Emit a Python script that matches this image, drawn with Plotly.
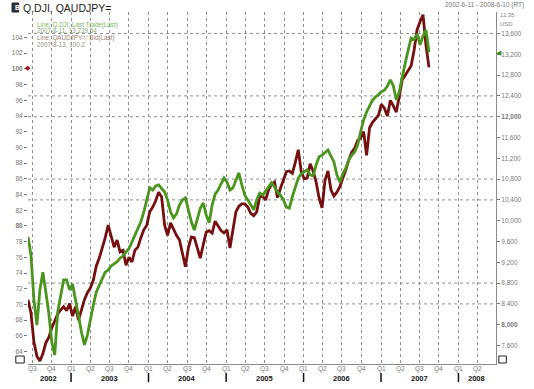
import pandas as pd
import plotly.graph_objects as go

# ---------------- data (bi-weekly samples) ----------------
start_date = "2002-06-12"
n_points = 136
dates = pd.date_range(start=start_date, periods=n_points, freq="14D")

dji = [
    9690, 9340, 8475, 7990, 8670, 9010, 8630, 8225, 7670, 7420,
    8250, 8570, 8860, 8860, 8670, 8780, 8440, 8170, 7860, 7610,
    7800, 8130, 8380, 8630, 8760, 8900, 9010, 9050, 9130, 9170,
    9210, 9280, 9320, 9400, 9460, 9590, 9710, 9860, 9980, 10170,
    10400, 10630, 10590, 10670, 10690, 10630, 10550, 10400, 10170, 10050,
    10130, 10300, 10400, 10440, 10210, 9980, 9820, 10010, 10240, 10340,
    10110, 9960, 10300, 10510, 10590, 10710, 10820, 10740, 10590, 10630,
    10780, 10920, 10690, 10490, 10400, 10300, 10210, 10400, 10530, 10490,
    10570, 10630, 10730, 10650, 10550, 10490, 10400, 10260, 10240, 10460,
    10630, 10820, 10900, 10940, 10980, 10880, 10860, 11070, 11230, 11260,
    11320, 11360, 11240, 11130, 10880, 10740, 10900, 11010, 11170, 11260,
    11320, 11460, 11710, 11940, 12090, 12210, 12320, 12380, 12420, 12480,
    12510, 12590, 12710, 12590, 12320, 12480, 12780, 13030, 13280, 13510,
    13480, 13590, 13380, 13550, 13670, 13240,
]

audjpy = [
    70.6, 68.9, 65.2, 63.4, 62.8, 63.7, 65.1, 65.8, 67.0, 68.0,
    68.8, 69.3, 69.7, 69.2, 70.1, 68.5, 69.7, 68.0, 69.3, 70.6,
    71.5, 72.1, 73.1, 74.9, 75.9, 77.1, 78.5, 80.1, 78.8, 77.3,
    78.2, 76.7, 76.9, 75.0, 76.0, 75.4, 76.9, 77.3, 78.5, 79.5,
    80.1, 81.8, 82.4, 83.2, 84.3, 83.7, 80.1, 78.8, 80.4, 79.5,
    78.8, 78.2, 76.3, 74.8, 77.2, 78.6, 78.5, 77.3, 75.9, 77.6,
    79.2, 79.4, 79.1, 80.6, 80.0, 79.4, 79.1, 79.5, 77.2, 79.7,
    81.8, 82.5, 82.8, 82.8, 82.4, 81.6, 81.3, 81.8, 83.7, 83.8,
    83.3, 84.6, 85.3, 85.6, 83.6, 84.8, 86.0, 86.9, 87.0, 86.7,
    88.1, 89.7, 86.9, 86.0, 86.1, 87.9, 87.0, 85.6, 83.6, 82.3,
    85.8, 87.0, 84.6, 83.8, 84.3, 85.0, 86.1, 87.1, 88.4, 89.4,
    89.9, 90.9, 91.2, 92.0, 89.0, 92.5, 93.2, 93.7, 94.1, 95.5,
    95.0, 94.0, 96.0, 95.3, 94.5, 96.5, 98.6, 99.2, 99.9, 100.4,
    102.4, 105.0, 106.0, 106.9, 103.0, 100.2,
]

left_ticks = list(range(64, 105, 2))
left_bold = [80, 100]
right_ticks = list(range(7600, 13601, 400))
right_bold = [8000, 12000]
hgrid_values = [13600, 12400, 12000, 10800, 10400, 8800, 8400]

quarter_dates = ["2002-07-01", "2002-10-01",
                 "2003-01-01", "2003-04-01", "2003-07-01", "2003-10-01",
                 "2004-01-01", "2004-04-01", "2004-07-01", "2004-10-01",
                 "2005-01-01", "2005-04-01", "2005-07-01", "2005-10-01",
                 "2006-01-01", "2006-04-01", "2006-07-01", "2006-10-01",
                 "2007-01-01", "2007-04-01", "2007-07-01", "2007-10-01",
                 "2008-01-01", "2008-04-01"]
quarter_labels = ["Q3", "Q4"] + ["Q1", "Q2", "Q3", "Q4"] * 5 + ["Q1", "Q2"]
year_labels = ["2002", "2003", "2004", "2005", "2006", "2007", "2008"]
year_label_dates = ["2002-09-17", "2003-07-01", "2004-07-01", "2005-07-01",
                    "2006-07-01", "2007-07-01", "2008-03-25"]
year_starts = ["2003-01-01", "2004-01-01", "2005-01-01", "2006-01-01",
               "2007-01-01", "2008-01-01"]

# ---------------- layout helpers ----------------
W, H = 534, 389
L, R, T, B = 20, 15, 12, 25
PW, PH = W - L - R, H - T - B


def px(X):
    return (X - L) / PW


def py(Y):
    return (H - B - Y) / PH


GREEN = "#4a951d"
RED = "#761010"
GRID = "#8f8f8f"
FONT = "Liberation Sans, Arial, sans-serif"

fig = go.Figure()
fig.add_trace(go.Scatter(x=dates, y=dji, yaxis="y2", mode="lines",
                         line=dict(color=GREEN, width=2.8), hoverinfo="skip"))
fig.add_trace(go.Scatter(x=dates, y=audjpy, yaxis="y", mode="lines",
                         line=dict(color=RED, width=2.8), hoverinfo="skip"))


def fmt_left(v):
    return f"<b>{v}</b>" if v in left_bold else str(v)


def fmt_right(v):
    s = f"{v:,}"
    return f"<b>{s}</b>" if v in right_bold else s


shapes = []
for v in hgrid_values:
    shapes.append(dict(type="line", xref="paper", x0=0, x1=1, yref="y2", y0=v, y1=v,
                       line=dict(color=GRID, width=1, dash="dot"), layer="below"))
for d in year_starts:
    shapes.append(dict(type="line", xref="x", x0=d, x1=d, yref="paper",
                       y0=py(373), y1=py(382), line=dict(color="#111", width=1.5)))
# small corner boxes
shapes.append(dict(type="rect", xref="paper", yref="paper", x0=px(7), x1=px(16),
                   y0=py(363), y1=py(356), line=dict(color="#222", width=1)))
shapes.append(dict(type="rect", xref="paper", yref="paper", x0=px(522), x1=px(530),
                   y0=py(363), y1=py(356), line=dict(color="#222", width=1)))
# header icon
shapes.append(dict(type="rect", xref="paper", yref="paper", x0=px(3), x1=px(10),
                   y0=py(12), y1=py(3), line=dict(color="#222", width=1),
                   fillcolor="#333"))

ann = []
for d, t in zip(quarter_dates, quarter_labels):
    ann.append(dict(x=d, xref="x", y=py(369), yref="paper", text=t, showarrow=False,
                    font=dict(size=6.5, color="#777", family=FONT),
                    xanchor="center", yanchor="middle"))
for d, t in zip(year_label_dates, year_labels):
    ann.append(dict(x=d, xref="x", y=py(378), yref="paper", text=f"<b>{t}</b>",
                    showarrow=False, font=dict(size=7.5, color="#111", family=FONT),
                    xanchor="center", yanchor="middle"))

ann += [
    dict(x=px(13), y=py(8), xref="paper", yref="paper", text="Q.DJI, QAUDJPY=",
         showarrow=False, xanchor="left", yanchor="middle",
         font=dict(size=10.5, color="#222", family=FONT)),
    dict(x=px(463), y=py(5.5), xref="paper", yref="paper",
         text="2002-6-11 - 2008-6-10 (RT)", showarrow=False, xanchor="left",
         yanchor="middle", font=dict(size=6.5, color="#777", family=FONT)),
    dict(x=px(521), y=py(15), xref="paper", yref="paper", text="11:35",
         showarrow=False, xanchor="left", yanchor="middle",
         font=dict(size=6, color="#888", family=FONT)),
    dict(x=px(521), y=py(23.5), xref="paper", yref="paper", text="USD",
         showarrow=False, xanchor="left", yanchor="middle",
         font=dict(size=6, color="#888", family=FONT)),
    dict(x=px(27), y=py(25), xref="paper", yref="paper",
         text="Line; Q.DJI; Last Trade(Last)", showarrow=False, xanchor="left",
         yanchor="middle", font=dict(size=6.3, color="#7fb660", family=FONT)),
    dict(x=px(27), y=py(31), xref="paper", yref="paper",
         text="2007-8-11, 13,239.54", showarrow=False, xanchor="left",
         yanchor="middle", font=dict(size=6.3, color="#8aa87a", family=FONT)),
    dict(x=px(27), y=py(38), xref="paper", yref="paper",
         text="Line; QAUDJPY=; Bid(Last)", showarrow=False, xanchor="left",
         yanchor="middle", font=dict(size=6.3, color="#9a8478", family=FONT)),
    dict(x=px(27), y=py(44), xref="paper", yref="paper",
         text="2007-8-13, 100.2", showarrow=False, xanchor="left",
         yanchor="middle", font=dict(size=6.3, color="#9a8a80", family=FONT)),
    dict(x=px(4.5), y=py(8), xref="paper", yref="paper", text="<b>B</b>",
         showarrow=False, xanchor="left", yanchor="middle",
         font=dict(size=7, color="#fff", family=FONT)),
    dict(x=px(19.5), y=audjpy[-1], xref="paper", yref="y", text="◆",
         showarrow=False, xanchor="center", yanchor="middle",
         font=dict(size=7, color="#a01818", family=FONT)),
    dict(x=px(522), y=dji[-1], xref="paper", yref="y2", text="◀",
         showarrow=False, xanchor="center", yanchor="middle",
         font=dict(size=7, color="#3f8f1f", family=FONT)),
]

fig.update_layout(
    width=W, height=H,
    margin=dict(l=L, r=R, t=T, b=B, pad=0),
    paper_bgcolor="white", plot_bgcolor="white",
    showlegend=False,
    font=dict(family=FONT),
    xaxis=dict(type="date", range=["2002-06-12", "2008-06-26"],
               tickvals=quarter_dates, showticklabels=False, ticks="",
               showgrid=True, gridcolor=GRID, gridwidth=1, griddash="dot",
               showline=True, linecolor="#8a8a8a", linewidth=1, zeroline=False),
    yaxis=dict(range=[62.41, 107.25], tickvals=left_ticks,
               ticktext=[fmt_left(v) for v in left_ticks],
               tickfont=dict(size=6.5, color="#777", family=FONT),
               ticks="outside", ticklen=3, tickcolor="#777",
               showgrid=False, zeroline=False, showline=False),
    yaxis2=dict(range=[7244, 14013], overlaying="y", side="right",
                tickvals=right_ticks, ticktext=[fmt_right(v) for v in right_ticks],
                tickfont=dict(size=6.5, color="#777", family=FONT),
                ticks="outside", ticklen=3, tickcolor="#777",
                showgrid=False, zeroline=False, showline=True,
                linecolor="#8a8a8a", linewidth=1),
    shapes=shapes,
    annotations=ann,
)

fig.write_html(
    "out.html",
    config={"displayModeBar": False, "staticPlot": True},
    post_script="document.body.style.margin='0px';"
                "document.body.style.overflow='hidden';",
)
